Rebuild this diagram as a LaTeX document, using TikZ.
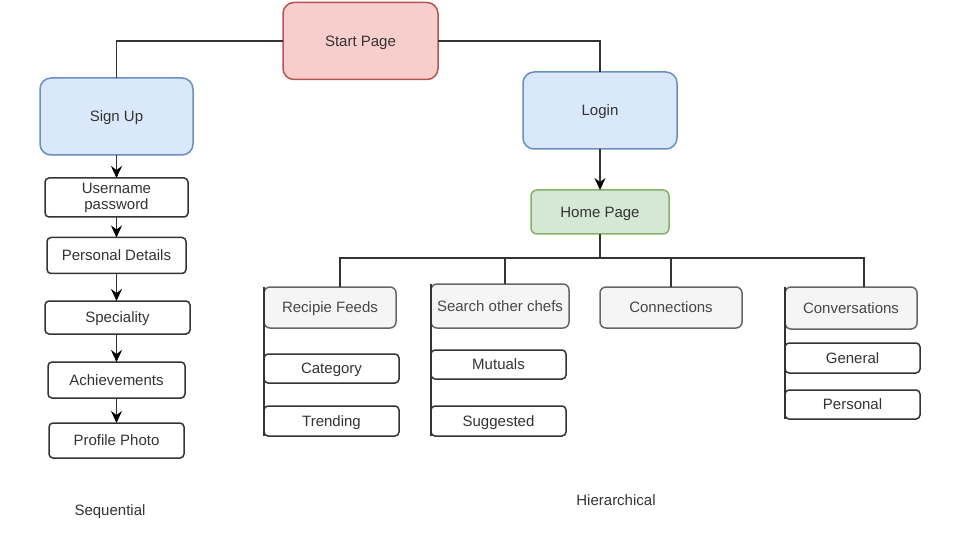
\documentclass[tikz,border=0pt]{standalone}
\usepackage{fontspec}
\setmainfont{Liberation Sans}
\usetikzlibrary{arrows.meta}
\definecolor{redfill}{HTML}{F8CECC}
\definecolor{redline}{HTML}{B85450}
\definecolor{bluefill}{HTML}{DAE8FC}
\definecolor{blueline}{HTML}{6C8EBF}
\definecolor{greenfill}{HTML}{D5E8D4}
\definecolor{greenline}{HTML}{82B366}
\definecolor{greyfill}{HTML}{F5F5F5}
\definecolor{greyline}{HTML}{666666}
\definecolor{ink}{HTML}{333333}
\tikzset{
  box/.style={draw=ink, line width=1.5pt, rounded corners=4pt, fill=white,
    inner sep=0pt, outer sep=0pt, align=center, text=ink, font=\fontsize{15}{16}\selectfont,
    text height=12.4pt, text depth=1.6pt},
  bigbox/.style={box, rounded corners=11pt},
  pagered/.style={bigbox, fill=redfill, draw=redline},
  pageblue/.style={bigbox, fill=bluefill, draw=blueline},
  pagegreen/.style={box, rounded corners=6pt, fill=greenfill, draw=greenline},
  section/.style={box, rounded corners=6pt, fill=greyfill, draw=greyline, text=ink!90},
  link/.style={draw=ink, line width=1.6pt},
  flow/.style={link, -{Stealth[length=12pt,width=11pt,inset=4pt,color=black]}},
  caption/.style={text=ink, font=\fontsize{15}{16}\selectfont},
}
\begin{document}
\begin{tikzpicture}[x=1pt,y=-1pt]
\useasboundingbox (0,0) rectangle (957,534);

% top level pages
\node[pagered, minimum width=155, minimum height=77] (start) at (360.5,41) {Start Page};
\node[pageblue, minimum width=153, minimum height=77] (signup) at (116.5,116.5) {Sign Up};
\node[pageblue, minimum width=154, minimum height=77] (login) at (600,110.5) {Login};
\node[pagegreen, minimum width=138, minimum height=44] (home) at (600,212) {Home Page};

\draw[link] (start.west) -| (signup.north);
\draw[link] (start.east) -| (login.north);
\draw[flow] (login.south) -- (home.north);

% sign up sequence
\node[box, minimum width=143, minimum height=39, text height=, text depth=] (user) at (116.5,197.5) {Username\\[0pt]password};
\node[box, minimum width=139, minimum height=36] (personal) at (116.5,255.5) {Personal Details};
\node[box, minimum width=145, minimum height=33] (spec) at (117.5,317.5) {Speciality};
\node[box, minimum width=137, minimum height=36] (achieve) at (116.5,380) {Achievements};
\node[box, minimum width=135, minimum height=35] (photo) at (116.5,440.5) {Profile Photo};

\draw[flow] (signup.south) -- (user.north);
\draw[flow] (user.south) -- (personal.north);
\draw[flow] (personal.south) -- (personal.south |- spec.north);
\draw[flow] (spec.south -| achieve.north) -- (achieve.north);
\draw[flow] (achieve.south) -- (photo.north);

% home page sections
\node[section, minimum width=132, minimum height=41] (feeds) at (330,307.5) {Recipie Feeds};
\node[section, minimum width=138, minimum height=44] (search) at (500,306) {Search other chefs};
\node[section, minimum width=142, minimum height=41] (conn) at (671,307.5) {Connections};
\node[section, minimum width=132, minimum height=42] (conv) at (851,308) {Conversations};

\coordinate (hub) at (600,258);
\draw[link] (home.south) -- (hub);
\draw[link] (hub) -| ([xshift=10pt]feeds.north);
\draw[link] (hub) -| ([xshift=5pt]search.north);
\draw[link] (hub) -| (conn.north);
\draw[link] (hub) -| ([xshift=13pt]conv.north);

% sub items
\node[box, minimum width=135, minimum height=29] (cat) at (331.5,368.5) {Category};
\node[box, minimum width=135, minimum height=30] (trend) at (331.5,421) {Trending};
\node[box, minimum width=135, minimum height=29] (mutual) at (498.5,364.5) {Mutuals};
\node[box, minimum width=135, minimum height=30] (suggest) at (498.5,421) {Suggested};
\node[box, minimum width=135, minimum height=30] (general) at (852.5,358) {General};
\node[box, minimum width=135, minimum height=29] (pers) at (852.5,404.5) {Personal};

\draw[link] (feeds.north west) -- (trend.south west);
\draw[link] (search.north west) -- (suggest.south west);
\draw[link] (conv.north west) -- (pers.south west);

% captions
\node[caption] (seq) at (110,512) {Sequential};
\node[caption] (hier) at (616,500) {Hierarchical};
\end{tikzpicture}
\end{document}
